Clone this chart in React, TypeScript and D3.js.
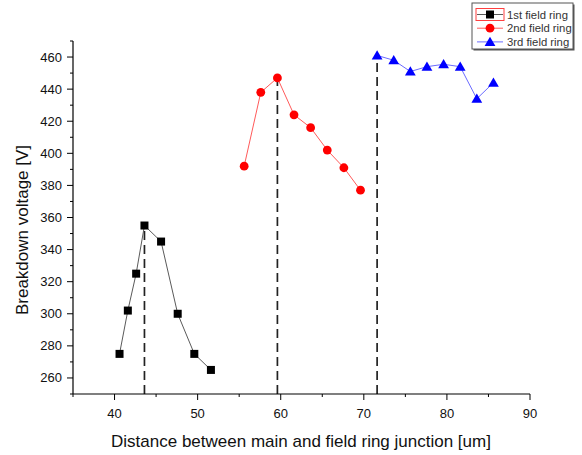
import * as d3 from 'd3'

// series
const ring1X = [40.6, 41.6, 42.6, 43.6, 45.6, 47.6, 49.6, 51.6]
const ring1Y = [275, 302, 325, 355, 345, 300, 275, 265]
const ring2X = [55.6, 57.6, 59.6, 61.6, 63.6, 65.6, 67.6, 69.6]
const ring2Y = [392, 438, 447, 424, 416, 402, 391, 377]
const ring3X = [71.6, 73.6, 75.6, 77.6, 79.6, 81.6, 83.6, 85.6]
const ring3Y = [461, 458, 451, 454, 455.5, 454, 434, 444]

const seriesNames = ['1st field ring', '2nd field ring', '3rd field ring']
const xMajor = [40, 50, 60, 70, 80, 90]
const xMinor = [35, 45, 55, 65, 75, 85]
const yMajor = [260, 280, 300, 320, 340, 360, 380, 400, 420, 440, 460]
const yMinor = [250, 270, 290, 310, 330, 350, 370, 390, 410, 430, 450, 470]

const font = '"Liberation Sans", Arial, sans-serif'

type Pt = { x: number; y: number }
const zip = (xs: number[], ys: number[]): Pt[] => xs.map((x, i) => ({ x, y: ys[i] }))

const series = [
  { name: seriesNames[0], pts: zip(ring1X, ring1Y), line: '#5a5a5a', fill: '#000000', shape: 'square' },
  { name: seriesNames[1], pts: zip(ring2X, ring2Y), line: '#ff5a5a', fill: '#ff0000', shape: 'circle' },
  { name: seriesNames[2], pts: zip(ring3X, ring3Y), line: '#6b6bff', fill: '#0000ff', shape: 'triangle' },
]

const Marker = ({ shape, cx, cy, fill }: { shape: string; cx: number; cy: number; fill: string }) => {
  if (shape === 'square') return <rect x={cx - 4} y={cy - 4} width={8} height={8} fill={fill} />
  if (shape === 'circle') return <circle cx={cx} cy={cy} r={4.4} fill={fill} />
  return <path d={`M${cx},${cy - 5.2} L${cx + 5.4},${cy + 4} L${cx - 5.4},${cy + 4} Z`} fill={fill} />
}

export default function App() {
  const width = 582
  const height = 455
  const x = d3.scaleLinear().domain([35, 90]).range([73, 530])
  const y = d3.scaleLinear().domain([250, 470]).range([394, 41])

  const line = d3
    .line<Pt>()
    .x((d) => x(d.x))
    .y((d) => y(d.y))

  // dashed markers at the peak of each ring
  const peaks = series.map((s) => s.pts.reduce((a, b) => (b.y > a.y ? b : a)))

  return (
    <div style={{ position: 'absolute', left: 0, top: 0 }}>
      <svg width={width} height={height} style={{ background: '#fff', display: 'block' }}>
        {/* peak lines */}
        {peaks.map((p, i) => (
          <line
            key={i}
            x1={x(p.x)}
            x2={x(p.x)}
            y1={y(250)}
            y2={y(p.y)}
            stroke="#222"
            strokeWidth={1.7}
            strokeDasharray="9,5"
          />
        ))}

        {/* axes */}
        <line x1={x(35)} x2={x(90)} y1={y(250)} y2={y(250)} stroke="#000" strokeWidth={1.2} />
        <line x1={x(35)} x2={x(35)} y1={y(250)} y2={y(470)} stroke="#000" strokeWidth={1.2} />
        {xMajor.map((t) => (
          <g key={'xm' + t}>
            <line x1={x(t)} x2={x(t)} y1={y(250)} y2={y(250) + 6} stroke="#000" />
            <text x={x(t)} y={418} fontSize={13} fontFamily={font} textAnchor="middle" fill="#111">
              {t}
            </text>
          </g>
        ))}
        {xMinor.map((t) => (
          <line key={'xn' + t} x1={x(t)} x2={x(t)} y1={y(250)} y2={y(250) + 3} stroke="#000" />
        ))}
        {yMajor.map((t) => (
          <g key={'ym' + t}>
            <line x1={x(35) - 6} x2={x(35)} y1={y(t)} y2={y(t)} stroke="#000" />
            <text x={62} y={y(t) + 4.5} fontSize={13} fontFamily={font} textAnchor="end" fill="#111">
              {t}
            </text>
          </g>
        ))}
        {yMinor.map((t) => (
          <line key={'yn' + t} x1={x(35) - 3} x2={x(35)} y1={y(t)} y2={y(t)} stroke="#000" />
        ))}

        <text x={301} y={447} fontSize={17} fontFamily={font} textAnchor="middle" fill="#111">
          Distance between main and field ring junction [um]
        </text>
        <text
          transform="translate(28,230) rotate(-90)"
          fontSize={17}
          fontFamily={font}
          textAnchor="middle"
          fill="#111"
        >
          Breakdown voltage [V]
        </text>

        {/* series */}
        {series.map((s) => (
          <g key={s.name}>
            <path d={line(s.pts) || ''} fill="none" stroke={s.line} strokeWidth={1} />
            {s.pts.map((p, i) => (
              <Marker key={i} shape={s.shape} cx={x(p.x)} cy={y(p.y)} fill={s.fill} />
            ))}
          </g>
        ))}

        {/* legend */}
        <g>
          <rect x={473.5} y={4.5} width={101} height={46} fill="#555" />
          <rect x={472} y={3} width={101} height={46} fill="#fff" stroke="#555" strokeWidth={1} />
          <rect x={476} y={8.5} width={28} height={12} fill="none" stroke="#ff4040" strokeWidth={1} />
          {series.map((s, i) => {
            const cy = 14.5 + i * 13.7
            return (
              <g key={s.name}>
                <line x1={477} x2={503} y1={cy} y2={cy} stroke={s.line} strokeWidth={1} />
                <Marker shape={s.shape} cx={490} cy={cy} fill={s.fill} />
                <text x={507} y={cy + 4} fontSize={11.3} fontFamily={font} fill="#333">
                  {s.name}
                </text>
              </g>
            )
          })}
        </g>
      </svg>
    </div>
  )
}
